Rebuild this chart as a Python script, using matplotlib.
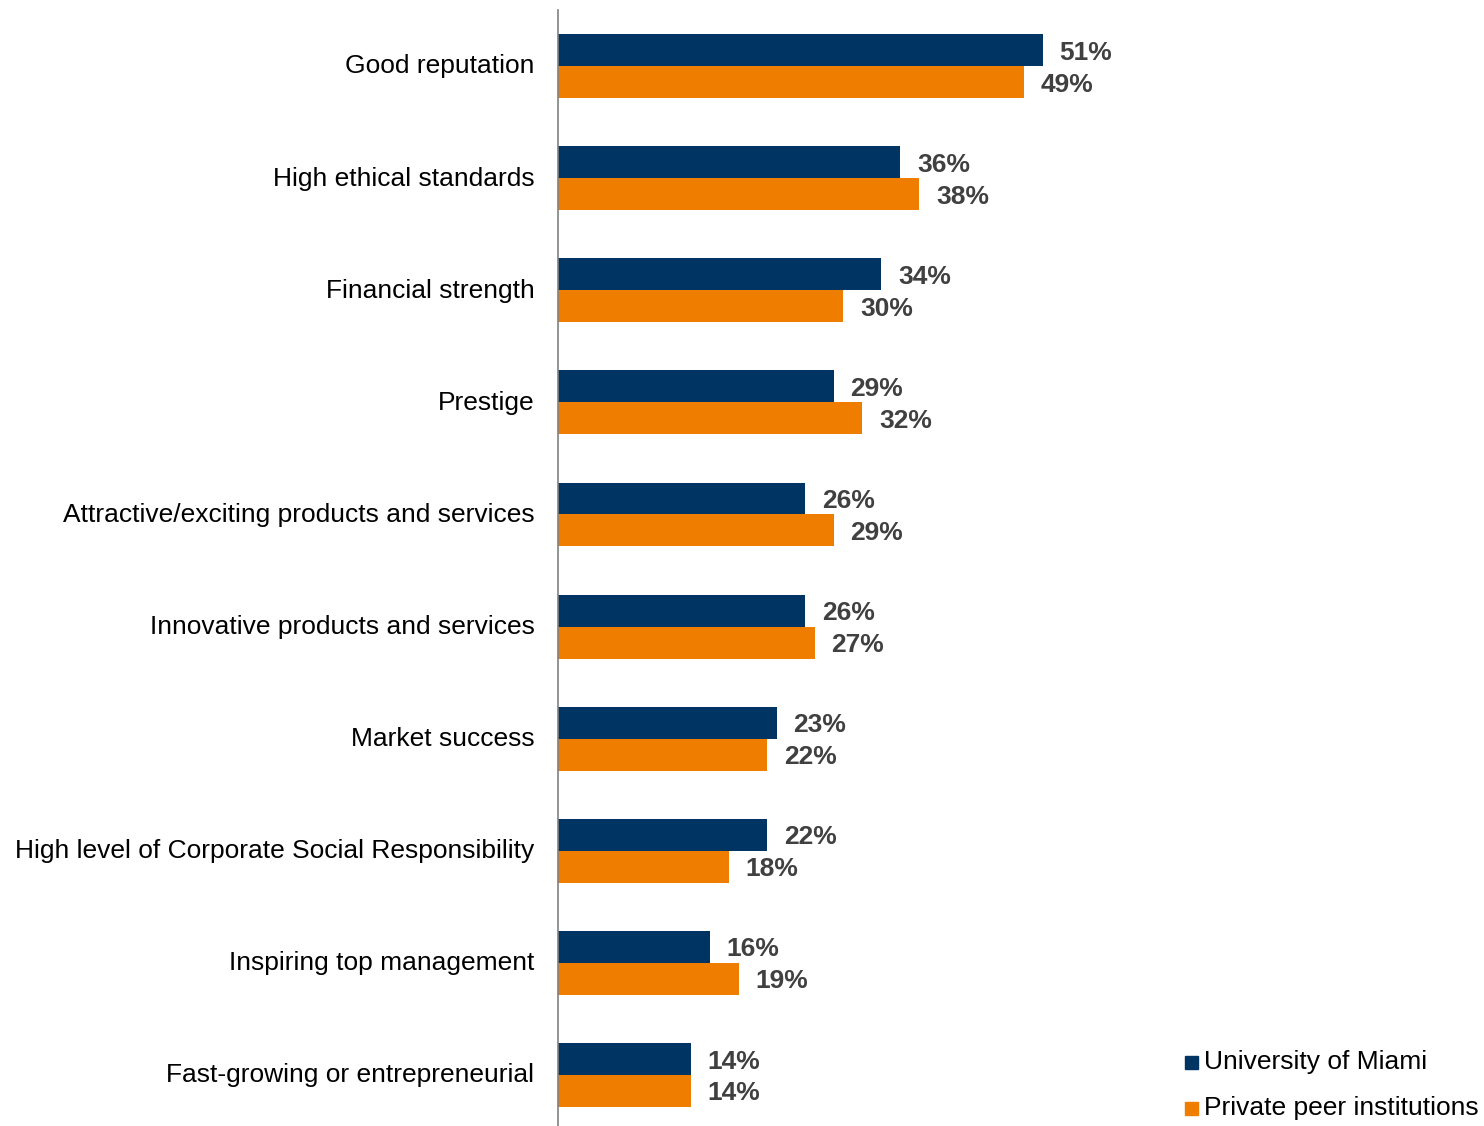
import matplotlib
matplotlib.use("Agg")
import matplotlib.pyplot as plt
import matplotlib.transforms as mtransforms
from matplotlib.patches import Rectangle

plt.rcParams['font.family'] = ['Liberation Sans', 'DejaVu Sans']

categories = [
    "Good reputation",
    "High ethical standards",
    "Financial strength",
    "Prestige",
    "Attractive/exciting products and services",
    "Innovative products and services",
    "Market success",
    "High level of Corporate Social Responsibility",
    "Inspiring top management",
    "Fast-growing or entrepreneurial",
]
miami = [51, 36, 34, 29, 26, 26, 23, 22, 16, 14]
peers = [49, 38, 30, 32, 29, 27, 22, 18, 19, 14]
series_names = ["University of Miami", "Private peer institutions"]

NAVY = "#003462"
ORANGE = "#EF7D00"
LABEL = "#404040"
FS = 19

W, H = 1484, 1126
fig = plt.figure(figsize=(W / 100, H / 100), dpi=100)
ax_left, ax_top, ax_bottom = 558, 10, 1126
px_per_pct = 9.51
xmax = 60
ax = fig.add_axes([ax_left / W, 1 - ax_bottom / H,
                   xmax * px_per_pct / W, (ax_bottom - ax_top) / H])

h = 0.285
y = list(range(len(categories)))
ax.barh([i - h / 2 for i in y], miami, height=h, color=NAVY)
ax.barh([i + h / 2 for i in y], peers, height=h, color=ORANGE)

for i in y:
    for val, yy in ((miami[i], i - h / 2), (peers[i], i + h / 2)):
        ax.annotate(f"{val}%", (val, yy), xytext=(12, -1.8),
                    textcoords="offset points", va="center", ha="left",
                    fontsize=FS, fontweight="bold", color=LABEL)

ax.set_xlim(0, xmax)
ax.set_ylim(9.455, -0.5)
ax.set_yticks(y)
ax.set_yticklabels(categories, fontsize=FS, color="black")
ax.tick_params(axis="y", length=0, pad=17)
shift = mtransforms.ScaledTranslation(0, 1.5 / 72, fig.dpi_scale_trans)
for lbl in ax.get_yticklabels():
    lbl.set_transform(lbl.get_transform() + shift)
ax.set_xticks([])
for s in ["top", "right", "bottom"]:
    ax.spines[s].set_visible(False)
ax.spines["left"].set_color("#808080")
ax.spines["left"].set_linewidth(1.2)

# legend drawn in figure pixel coordinates
for k, (name, col) in enumerate(zip(series_names, [NAVY, ORANGE])):
    cy = 1062 + k * 46
    fig.patches.append(Rectangle(((1185) / W, 1 - (cy + 7) / H), 13 / W, 13 / H,
                                 transform=fig.transFigure, color=col))
    fig.text(1204 / W, 1 - cy / H, name, fontsize=FS, va="center", ha="left",
             color="black")

fig.savefig("out.png", dpi=100)
